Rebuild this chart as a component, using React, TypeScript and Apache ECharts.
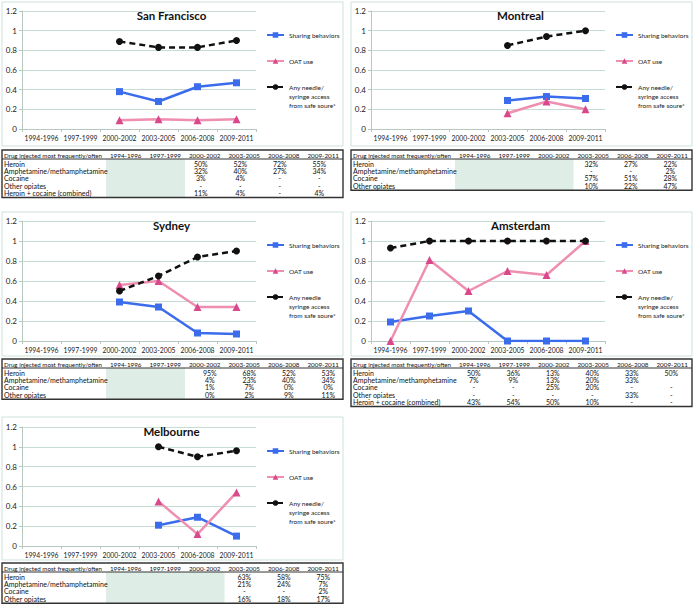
import React, { useEffect, useRef } from "react";
import * as echarts from "echarts";

// ---------- data ----------
const periods = ["1994-1996", "1997-1999", "2000-2002", "2003-2005", "2006-2008", "2009-2011"];
const SHARING = "Sharing behaviors";
const OAT = "OAT use";
const NEEDLE = "Any needle/\nsyringe access\nfrom safe soure*";
const NEEDLE_SYD = "Any needle\nsyringe access\nfrom safe soure*";

const sfSharing = [null, null, 0.38, 0.28, 0.43, 0.47];
const sfOat = [null, null, 0.09, 0.1, 0.09, 0.1];
const sfNeedle = [null, null, 0.89, 0.83, 0.83, 0.9];

const mtlSharing = [null, null, null, 0.29, 0.33, 0.31];
const mtlOat = [null, null, null, 0.16, 0.28, 0.2];
const mtlNeedle = [null, null, null, 0.85, 0.94, 1.0];

const sydSharing = [null, null, 0.39, 0.34, 0.08, 0.07];
const sydOat = [null, null, 0.56, 0.6, 0.34, 0.34];
const sydNeedle = [null, null, 0.5, 0.65, 0.84, 0.9];

const amsSharing = [0.19, 0.25, 0.3, 0, 0, 0];
const amsOat = [0, 0.81, 0.5, 0.7, 0.66, 1.0];
const amsNeedle = [0.93, 1, 1, 1, 1, 1];

const melSharing = [null, null, null, 0.21, 0.29, 0.1];
const melOat = [null, null, null, 0.45, 0.12, 0.54];
const melNeedle = [null, null, null, 1.0, 0.9, 0.96];

const tableHeading = "Drug injected most frequently/often";
const drugs5 = ["Heroin", "Amphetamine/methamphetamine", "Cocaine", "Other opiates", "Heroin + cocaine (combined)"];
const drugs4 = ["Heroin", "Amphetamine/methamphetamine", "Cocaine", "Other opiates"];

const sfTable = [
  ["", "", "50%", "52%", "72%", "55%"],
  ["", "", "32%", "40%", "27%", "34%"],
  ["", "", "3%", "4%", "-", "-"],
  ["", "", "-", "-", "-", "-"],
  ["", "", "11%", "4%", "-", "4%"],
];
const mtlTable = [
  ["", "", "", "32%", "27%", "22%"],
  ["", "", "", "-", "-", "2%"],
  ["", "", "", "57%", "51%", "28%"],
  ["", "", "", "10%", "22%", "47%"],
];
const sydTable = [
  ["", "", "95%", "68%", "52%", "53%"],
  ["", "", "4%", "23%", "40%", "34%"],
  ["", "", "1%", "7%", "0%", "0%"],
  ["", "", "0%", "2%", "9%", "11%"],
];
const amsTable = [
  ["50%", "36%", "13%", "40%", "33%", "50%"],
  ["7%", "9%", "13%", "20%", "33%", ""],
  ["-", "-", "25%", "20%", "-", "-"],
  ["-", "-", "-", "-", "33%", "-"],
  ["43%", "54%", "50%", "10%", "-", "-"],
];
const melTable = [
  ["", "", "", "63%", "58%", "75%"],
  ["", "", "", "21%", "24%", "7%"],
  ["", "", "", "-", "-", "2%"],
  ["", "", "", "16%", "18%", "17%"],
];

// ---------- layout / style ----------
const FONT = "Lato, 'Open Sans', sans-serif";
const colX = [2, 351];
const rowLayout = [
  { boxTop: 2, plotTop: 11, plotH: 118, boxBottom: 146, tableTop: 150 },
  { boxTop: 212, plotTop: 221, plotH: 120, boxBottom: 356, tableTop: 359 },
  { boxTop: 417, plotTop: 427, plotH: 119, boxBottom: 560, tableTop: 563 },
];
const BOX_W = 341;
const FIRST_W = 104;
const COL_W = 39.5;
const HEAD_H = 9;
const ROW_H = 7.3;

const BLUE = "#3a6cec";
const PINK_LINE = "#ee8fb2";
const PINK_MARK = "#d9488a";
const BLACK = "#111111";
const GRID_C = "#c6ddd3";
const AXIS_C = "#b6c8c0";
const BOX_C = "#cde2d9";

const panels = [
  { title: "San Francisco", col: 0, row: 0, sharing: sfSharing, oat: sfOat, needle: sfNeedle, needleName: NEEDLE, drugs: drugs5, table: sfTable, shaded: 2, shift: -4 },
  { title: "Montreal", col: 1, row: 0, sharing: mtlSharing, oat: mtlOat, needle: mtlNeedle, needleName: NEEDLE, drugs: drugs4, table: mtlTable, shaded: 3, shift: -2 },
  { title: "Sydney", col: 0, row: 1, sharing: sydSharing, oat: sydOat, needle: sydNeedle, needleName: NEEDLE_SYD, drugs: drugs4, table: sydTable, shaded: 2, shift: 5 },
  { title: "Amsterdam", col: 1, row: 1, sharing: amsSharing, oat: amsOat, needle: amsNeedle, needleName: NEEDLE, drugs: drugs5, table: amsTable, shaded: 0, shift: -1 },
  { title: "Melbourne", col: 0, row: 2, sharing: melSharing, oat: melOat, needle: melNeedle, needleName: NEEDLE, drugs: drugs4, table: melTable, shaded: 3, shift: 0 },
];

function txt(text: string, x: number, y: number, align: string, size: number) {
  return {
    type: "text",
    silent: true,
    x,
    y,
    style: {
      text,
      fontSize: size,
      fontFamily: FONT,
      fill: "#111111",
      align,
      verticalAlign: "middle",
    },
  };
}

function tableEls(p: any, x0: number, top: number) {
  const n = p.drugs.length;
  const bodyTop = top + HEAD_H;
  const bottom = bodyTop + n * ROW_H + 2;
  const width = FIRST_W + COL_W * periods.length;
  const els: any[] = [];
  if (p.shaded) {
    els.push({
      type: "rect",
      silent: true,
      shape: { x: x0 + FIRST_W, y: bodyTop, width: COL_W * p.shaded, height: bottom - bodyTop },
      style: { fill: "#deede6" },
    });
  }
  els.push({
    type: "rect",
    silent: true,
    shape: { x: x0, y: top, width, height: bottom - top },
    style: { fill: "none", stroke: "#333333", lineWidth: 1.4 },
  });
  els.push({
    type: "line",
    silent: true,
    shape: { x1: x0, y1: bodyTop, x2: x0 + width, y2: bodyTop },
    style: { stroke: "#333333", lineWidth: 1 },
  });
  els.push(txt(tableHeading, x0 + 2, top + HEAD_H / 2 + 0.5, "left", 6.2));
  periods.forEach((per, j) => {
    els.push(txt(per, x0 + FIRST_W + COL_W * (j + 0.5), top + HEAD_H / 2 + 0.5, "center", 6.3));
  });
  p.drugs.forEach((d: string, k: number) => {
    const cy = bodyTop + 1 + ROW_H * (k + 0.5);
    els.push(txt(d, x0 + 2, cy, "left", 7));
    p.table[k].forEach((v: string, j: number) => {
      if (v) els.push(txt(v, x0 + FIRST_W + COL_W * (j + 0.5) + p.shift, cy, "center", 7));
    });
  });
  return els;
}

function buildOption() {
  const grid: any[] = [];
  const xAxis: any[] = [];
  const yAxis: any[] = [];
  const series: any[] = [];
  const title: any[] = [];
  const legend: any[] = [];
  const elements: any[] = [];

  panels.forEach((p, i) => {
    const x0 = colX[p.col];
    const r = rowLayout[p.row];
    grid.push({ left: x0 + 20, top: r.plotTop, width: 234, height: r.plotH });
    xAxis.push({
      gridIndex: i,
      type: "category",
      data: periods,
      boundaryGap: true,
      axisLine: { show: true, lineStyle: { color: AXIS_C, width: 1 } },
      axisTick: { show: true, length: 3, lineStyle: { color: AXIS_C } },
      axisLabel: { interval: 0, fontSize: 6.8, fontFamily: FONT, color: "#1a1a1a", margin: 5 },
      splitLine: { show: false },
    });
    yAxis.push({
      gridIndex: i,
      type: "value",
      min: 0,
      max: 1.2,
      interval: 0.2,
      axisLine: { show: true, lineStyle: { color: AXIS_C, width: 1 } },
      axisTick: { show: true, length: 3, lineStyle: { color: AXIS_C } },
      axisLabel: { fontSize: 8, fontFamily: FONT, color: "#1a1a1a", margin: 5 },
      splitLine: { show: true, lineStyle: { color: GRID_C, width: 1 } },
    });
    series.push({
      type: "line",
      name: SHARING,
      xAxisIndex: i,
      yAxisIndex: i,
      data: p.sharing,
      symbol: "rect",
      symbolSize: 7,
      itemStyle: { color: BLUE },
      lineStyle: { color: BLUE, width: 2.5 },
      z: 2,
    });
    series.push({
      type: "line",
      name: OAT,
      xAxisIndex: i,
      yAxisIndex: i,
      data: p.oat,
      symbol: "triangle",
      symbolSize: 8,
      itemStyle: { color: PINK_MARK },
      lineStyle: { color: PINK_LINE, width: 2.5 },
      z: 3,
    });
    series.push({
      type: "line",
      name: p.needleName,
      xAxisIndex: i,
      yAxisIndex: i,
      data: p.needle,
      symbol: "circle",
      symbolSize: 7,
      itemStyle: { color: BLACK },
      lineStyle: { color: BLACK, width: 2.5, type: [6, 4] },
      z: 4,
    });
    title.push({
      text: p.title,
      left: x0 + 169.5,
      top: r.plotTop - 2,
      textAlign: "center",
      padding: 0,
      textStyle: { fontSize: 11.5, fontWeight: "bold", fontFamily: FONT, color: "#111" },
    });
    legend.push({
      data: [SHARING, OAT],
      orient: "vertical",
      left: x0 + 264,
      top: r.plotTop + 19.5,
      itemGap: 17,
      itemWidth: 17,
      itemHeight: 7,
      padding: 0,
      selectedMode: false,
      textStyle: { fontSize: 6.5, fontFamily: FONT, color: "#1a1a1a", lineHeight: 9 },
    });
    // two blank lines in front keep the first text line level with the icon
    legend.push({
      data: [p.needleName],
      orient: "vertical",
      left: x0 + 264,
      top: r.plotTop + 53.5,
      itemWidth: 17,
      itemHeight: 7,
      padding: 0,
      selectedMode: false,
      formatter: (name: string) => "\n\n" + name,
      textStyle: { fontSize: 6.5, fontFamily: FONT, color: "#1a1a1a", lineHeight: 9 },
    });
    elements.push({
      type: "rect",
      silent: true,
      z: -1,
      shape: { x: x0, y: r.boxTop, width: BOX_W, height: r.boxBottom - r.boxTop },
      style: { fill: "none", stroke: BOX_C, lineWidth: 1 },
    });
    tableEls(p, x0, r.tableTop).forEach((e) => elements.push(e));
  });

  return {
    animation: false,
    backgroundColor: "#ffffff",
    title,
    legend,
    grid,
    xAxis,
    yAxis,
    series,
    graphic: { elements },
  };
}

export default function App() {
  const ref = useRef<HTMLDivElement>(null);
  useEffect(() => {
    const chart = echarts.init(ref.current as HTMLDivElement, null, { renderer: "svg" });
    chart.setOption(buildOption() as any);
    return () => chart.dispose();
  }, []);
  return (
    <div
      ref={ref}
      style={{ position: "absolute", left: 0, top: 0, width: 695, height: 616, background: "#fff" }}
    />
  );
}
